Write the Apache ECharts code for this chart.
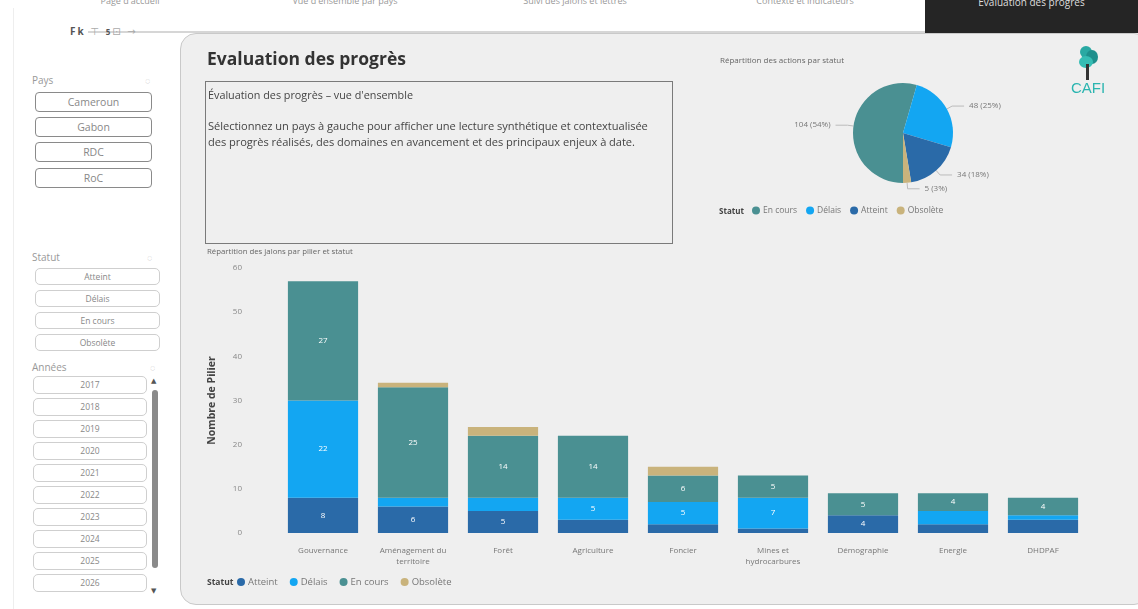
<!DOCTYPE html>
<html>
<head>
<meta charset="utf-8">
<script src="https://cdn.jsdelivr.net/npm/echarts@6/dist/echarts.min.js"></script>
<style>
  html,body{margin:0;padding:0;background:#fff;}
  body{width:1138px;height:609px;position:relative;overflow:hidden;font-family:"Open Sans","Noto Sans","DejaVu Sans",sans-serif;color:#444;}
  .abs{position:absolute;}
  #panel{left:180px;top:33px;width:970px;height:572px;background:#efefef;border:1px solid #c9c9c9;border-radius:16px;box-sizing:border-box;}
  #chart{left:0;top:0;width:1138px;height:609px;z-index:1;}
  .ov{z-index:2;}
  .tab{font-size:9px;color:#999;text-align:center;line-height:10px;}
  .lbl{font-size:10px;color:#999;}
  .btn{box-sizing:border-box;border:1px solid #8a8a8a;border-radius:4px;font-size:10.5px;color:#888;text-align:center;background:#fff;}
  .btn2{box-sizing:border-box;border:1px solid #cfcfcf;border-radius:5px;font-size:8.5px;color:#888;text-align:center;background:#fff;}
  .eraser{font-size:9px;color:#aaa;}
</style>
</head>
<body>
<div class="abs" style="left:13px;top:8px;width:1px;height:601px;background:#eeeeee;"></div>
<!-- top tabs strip -->
<div class="abs tab" style="left:85px;top:-4px;width:90px;">Page d'accueil</div>
<div class="abs tab" style="left:285px;top:-4px;width:120px;">Vue d'ensemble par pays</div>
<div class="abs tab" style="left:510px;top:-4px;width:130px;">Suivi des jalons et lettres</div>
<div class="abs tab" style="left:735px;top:-4px;width:140px;">Contexte et indicateurs</div>
<div class="abs" style="left:88px;top:31px;width:838px;height:2px;background:#d6d6d6;"></div>
<div class="abs" style="left:925px;top:0;width:213px;height:33px;background:#252525;"></div>
<div class="abs" style="left:925px;top:-5px;width:213px;font-size:10px;color:#ddd;text-align:center;">Evaluation des progrès</div>

<!-- left slicers -->
<div class="abs" style="left:70px;top:24px;font-size:10px;color:#555;letter-spacing:2px;"><b>Fk</b> <span style="color:#aaa">⊤</span> <b style="font-size:8px">5</b><span style="color:#aaa">⊡</span> <span style="color:#aaa">→</span></div>

<div class="abs lbl" style="left:32px;top:73px;">Pays</div>
<div class="abs eraser" style="left:145px;top:74px;">◌</div>
<div class="abs btn" style="left:35px;top:92px;width:117px;height:20px;line-height:18px;">Cameroun</div>
<div class="abs btn" style="left:35px;top:117px;width:117px;height:20px;line-height:18px;">Gabon</div>
<div class="abs btn" style="left:35px;top:142px;width:117px;height:20px;line-height:18px;">RDC</div>
<div class="abs btn" style="left:35px;top:168px;width:117px;height:20px;line-height:18px;">RoC</div>

<div class="abs lbl" style="left:32px;top:250px;">Statut</div>
<div class="abs eraser" style="left:147px;top:251px;">◌</div>
<div class="abs btn2" style="left:35px;top:268px;width:125px;height:17px;line-height:15px;">Atteint</div>
<div class="abs btn2" style="left:35px;top:290px;width:125px;height:17px;line-height:15px;">Délais</div>
<div class="abs btn2" style="left:35px;top:312px;width:125px;height:17px;line-height:15px;">En cours</div>
<div class="abs btn2" style="left:35px;top:334px;width:125px;height:17px;line-height:15px;">Obsolète</div>

<div class="abs lbl" style="left:32px;top:360px;">Années</div>
<div class="abs eraser" style="left:150px;top:361px;">◌</div>
<div id="years"></div>
<div class="abs" style="left:151px;top:376px;font-size:7px;color:#555;">▲</div>
<div class="abs" style="left:152px;top:390px;width:6px;height:178px;background:#8a8a8a;border-radius:3px;"></div>
<div class="abs" style="left:151px;top:586px;font-size:7px;color:#555;">▼</div>

<div id="panel" class="abs"></div>

<!-- panel texts -->
<div class="abs ov" style="left:207px;top:46px;font-size:17.5px;font-weight:bold;color:#333;">Evaluation des progrès</div>
<div class="abs ov" style="left:205px;top:81px;width:468px;height:163px;border:1px solid #7a7a7a;box-sizing:border-box;"></div>
<div class="abs ov" style="left:208px;top:87px;font-size:10.8px;color:#444;">Évaluation des progrès – vue d'ensemble</div>
<div class="abs ov" style="left:208px;top:118px;width:464px;font-size:11.1px;color:#444;line-height:16px;letter-spacing:-0.05px;">Sélectionnez un pays à gauche pour afficher une lecture synthétique et contextualisée<br>des progrès réalisés, des domaines en avancement et des principaux enjeux à date.</div>
<div class="abs ov" style="left:207px;top:246px;font-size:7.8px;color:#666;">Répartition des jalons par pilier et statut</div>
<div class="abs ov" style="left:720px;top:54px;font-size:8px;color:#666;">Répartition des actions par statut</div>
<div class="abs ov" style="left:719px;top:205px;font-size:8px;font-weight:bold;color:#444;">Statut</div>
<div class="abs ov" style="left:207px;top:576px;font-size:8.5px;font-weight:bold;color:#444;">Statut</div>

<!-- logo -->
<div class="abs ov" style="left:1080px;top:46px;width:12px;height:12px;border-radius:50%;background:#29a9a3;"></div>
<div class="abs ov" style="left:1086px;top:50px;width:12px;height:14px;border-radius:50%;background:#1e8f8c;"></div>
<div class="abs ov" style="left:1079px;top:56px;width:14px;height:12px;border-radius:50%;background:#35bdb4;"></div>
<div class="abs ov" style="left:1086px;top:64px;width:3px;height:16px;background:#333;"></div>
<div class="abs ov" style="left:1071px;top:79px;font-size:15px;color:#2bb5b0;font-family:'Liberation Sans',sans-serif;">CAFI</div>

<div id="chart" class="abs"></div>

<script>
// ---- data ----
const categories = ['Gouvernance', 'Aménagement du\nterritoire', 'Forêt', 'Agriculture', 'Foncier', 'Mines et\nhydrocarbures', 'Démographie', 'Energie', 'DHDPAF'];
const atteint  = [8, 6, 5, 3, 2, 1, 4, 2, 3];
const delais   = [22, 2, 3, 5, 5, 7, 0, 3, 1];
const enCours  = [27, 25, 14, 14, 6, 5, 5, 4, 4];
const obsolete = [0, 1, 2, 0, 2, 0, 0, 0, 0];
const pieStatus = ['En cours', 'Délais', 'Atteint', 'Obsolète'];
const pieValues = [104, 48, 34, 5];
const yearLabels = ['2017', '2018', '2019', '2020', '2021', '2022', '2023', '2024', '2025', '2026'];

// year slicer buttons
const yc = document.getElementById('years');
yearLabels.forEach((y, i) => {
  const d = document.createElement('div');
  d.className = 'abs btn2';
  d.style.cssText = `left:33px;top:${376 + i * 22}px;width:114px;height:18px;line-height:16px;`;
  d.textContent = y;
  yc.appendChild(d);
});

const colors = { 'Atteint': '#2a6aa8', 'Délais': '#13a6f2', 'En cours': '#4a9092', 'Obsolète': '#c9b37c' };
const font = '"Open Sans","Noto Sans","DejaVu Sans",sans-serif';

const lbl = {
  show: true, position: 'inside', color: '#fff', fontSize: 8, fontFamily: font,
  formatter: p => (p.value >= 4 ? p.value : '')
};
function barSeries(name, data) {
  return { name, type: 'bar', stack: 'total', data, barCategoryGap: '22%',
           itemStyle: { color: colors[name] }, label: lbl, emphasis: { disabled: true } };
}

const chart = echarts.init(document.getElementById('chart'), null, { renderer: 'canvas' });
chart.setOption({
  backgroundColor: 'transparent',
  animation: false,
  textStyle: { fontFamily: font },
  grid: { left: 278, right: 1138 - 1088, top: 268, bottom: 609 - 533, containLabel: false },
  xAxis: {
    type: 'category', data: categories,
    axisLine: { show: false }, axisTick: { show: false },
    axisLabel: { fontSize: 8, color: '#777', margin: 12, lineHeight: 11, interval: 0 }
  },
  yAxis: {
    type: 'value', min: 0, max: 60, interval: 10,
    splitLine: { show: false }, axisLine: { show: false }, axisTick: { show: false },
    axisLabel: { fontSize: 8, color: '#888', margin: 36 },
    name: 'Nombre de Pilier', nameLocation: 'middle', nameGap: 60,
    nameTextStyle: { fontSize: 10.5, fontWeight: 'bold', color: '#444' }
  },
  legend: [
    { data: ['Atteint', 'Délais', 'En cours', 'Obsolète'], left: 237, top: 577, padding: 0, icon: 'circle',
      itemWidth: 8, itemHeight: 8, itemGap: 12, textStyle: { fontSize: 9.5, color: '#777', padding: [0, 0, 0, -2] } },
    { data: pieStatus, left: 752, top: 206, padding: 0, icon: 'circle',
      itemWidth: 8, itemHeight: 8, itemGap: 9, textStyle: { fontSize: 8.5, color: '#777', padding: [0, 0, 0, -2] } }
  ],
  series: [
    barSeries('Atteint', atteint),
    barSeries('Délais', delais),
    barSeries('En cours', enCours),
    barSeries('Obsolète', obsolete),
    {
      type: 'pie', name: 'Statut', center: [903, 133], radius: 50,
      startAngle: 270, clockwise: true, avoidLabelOverlap: true,
      data: pieStatus.map((n, i) => ({ name: n, value: pieValues[i], itemStyle: { color: colors[n] } })),
      label: { show: true, formatter: p => p.value + ' (' + Math.round(p.percent) + '%)', fontSize: 8, color: '#777' },
      labelLine: { length: 6, length2: 12, lineStyle: { color: '#bbb', width: 1 } },
      emphasis: { disabled: true }
    }
  ]
});
</script>
</body>
</html>
